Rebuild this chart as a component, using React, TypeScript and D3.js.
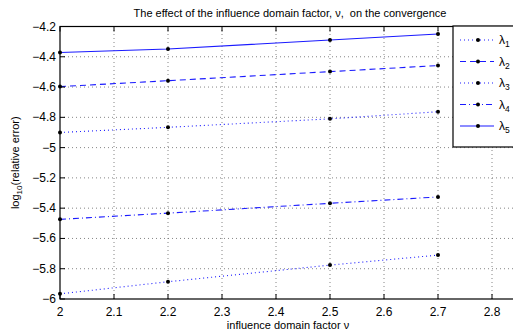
import React from "react";
import * as d3 from "d3";

const nu = [2, 2.2, 2.5, 2.7];
const lambda1 = [-4.9, -4.866, -4.81, -4.763];
const lambda2 = [-4.597, -4.558, -4.498, -4.458];
const lambda3 = [-5.966, -5.886, -5.776, -5.71];
const lambda4 = [-5.474, -5.433, -5.368, -5.326];
const lambda5 = [-4.372, -4.349, -4.289, -4.25];
const seriesNames = ["1", "2", "3", "4", "5"];
const xTicks = [2, 2.1, 2.2, 2.3, 2.4, 2.5, 2.6, 2.7, 2.8];
const yTicks = [-4.2, -4.4, -4.6, -4.8, -5, -5.2, -5.4, -5.6, -5.8, -6];
const titleText = "The effect of the influence domain factor, \u03bd,  on the convergence";
const xLabelText = "influence domain factor \u03bd";

const W = 513;
const H = 334;
const FONT = "'Liberation Sans', Arial, Helvetica, sans-serif";

export default function App() {
  const x = d3.scaleLinear().domain([2, 2.85]).range([60, 519]);
  const y = d3.scaleLinear().domain([-6, -4.2]).range([299, 26.5]);
  const series = [lambda1, lambda2, lambda3, lambda4, lambda5];
  const dashes = ["1 3", "6 4", "1 3", "6 3 1 3", null];
  const line = d3
    .line<number>()
    .x((_, i) => x(nu[i]))
    .y((d) => y(d));
  const [x0, x1] = x.range();
  const [yb, yt] = y.range();
  const fmt = (v: number) => (v < 0 ? "\u2212" + String(Math.abs(v)) : String(v));

  const legTop = 26;
  const legBottom = 147;
  const legLeft = 453;
  const rows = seriesNames.map((_, i) => 40 + i * 21.5);

  return (
    <div style={{ position: "fixed", left: 0, top: 0, width: W, height: H, background: "#fff" }}>
      <svg width={W} height={H} style={{ display: "block", fontFamily: FONT }}>
        <rect x={0} y={0} width={W} height={H} fill="#fff" />
        {/* grid */}
        {xTicks.slice(1).map((t) => (
          <line key={"gx" + t} x1={x(t)} x2={x(t)} y1={yb} y2={yt} stroke="#666" strokeWidth={0.8} strokeDasharray="1 3" />
        ))}
        {yTicks.slice(1, -1).map((t) => (
          <line key={"gy" + t} x1={x0} x2={x1} y1={y(t)} y2={y(t)} stroke="#666" strokeWidth={0.8} strokeDasharray="1 3" />
        ))}
        {/* lines */}
        {series.map((s, i) => (
          <path
            key={"s" + i}
            d={line(s) || ""}
            fill="none"
            stroke="#1a1aff"
            strokeWidth={1.1}
            strokeDasharray={dashes[i] || undefined}
          />
        ))}
        {series.map((s, i) =>
          s.map((v, j) => <circle key={"m" + i + "-" + j} cx={x(nu[j])} cy={y(v)} r={2} fill="#000" />)
        )}
        {/* axes box */}
        <rect x={x0} y={yt} width={x1 - x0} height={yb - yt} fill="none" stroke="#000" strokeWidth={1.2} />
        {/* ticks */}
        {xTicks.map((t) => (
          <g key={"tx" + t}>
            <line x1={x(t)} x2={x(t)} y1={yb} y2={yb - 5} stroke="#000" strokeWidth={1} />
            <line x1={x(t)} x2={x(t)} y1={yt} y2={yt + 5} stroke="#000" strokeWidth={1} />
            <text x={x(t)} y={yb + 17} textAnchor="middle" fontSize={12} fill="#000">
              {fmt(t)}
            </text>
          </g>
        ))}
        {yTicks.map((t) => (
          <g key={"ty" + t}>
            <line x1={x0} x2={x0 + 5} y1={y(t)} y2={y(t)} stroke="#000" strokeWidth={1} />
            <text x={56} y={y(t) + 4} textAnchor="end" fontSize={12} fill="#000">
              {fmt(t)}
            </text>
          </g>
        ))}
        {/* legend */}
        <rect x={legLeft} y={legTop} width={100} height={legBottom - legTop} fill="#fff" stroke="#000" strokeWidth={1.2} />
        {seriesNames.map((n, i) => (
          <g key={"lg" + i}>
            <line
              x1={460}
              x2={494}
              y1={rows[i]}
              y2={rows[i]}
              stroke="#1a1aff"
              strokeWidth={1.1}
              strokeDasharray={dashes[i] || undefined}
            />
            <circle cx={478} cy={rows[i]} r={2} fill="#000" />
            <text x={499} y={rows[i] + 4} fontSize={12} fill="#000">
              {"\u03bb"}
              <tspan fontSize={8.5} dy={3}>
                {n}
              </tspan>
            </text>
          </g>
        ))}
        {/* titles */}
        <text x={290} y={17} textAnchor="middle" fontSize={11} fill="#000" style={{ whiteSpace: "pre" }}>
          {titleText}
        </text>
        <text x={288} y={329} textAnchor="middle" fontSize={11} fill="#000">
          {xLabelText}
        </text>
        <text transform={`translate(19,${(yt + yb) / 2}) rotate(-90)`} textAnchor="middle" fontSize={11} fill="#000">
          log
          <tspan fontSize={8} dy={3}>
            10
          </tspan>
          <tspan dy={-3}>(relative error)</tspan>
        </text>
      </svg>
    </div>
  );
}
